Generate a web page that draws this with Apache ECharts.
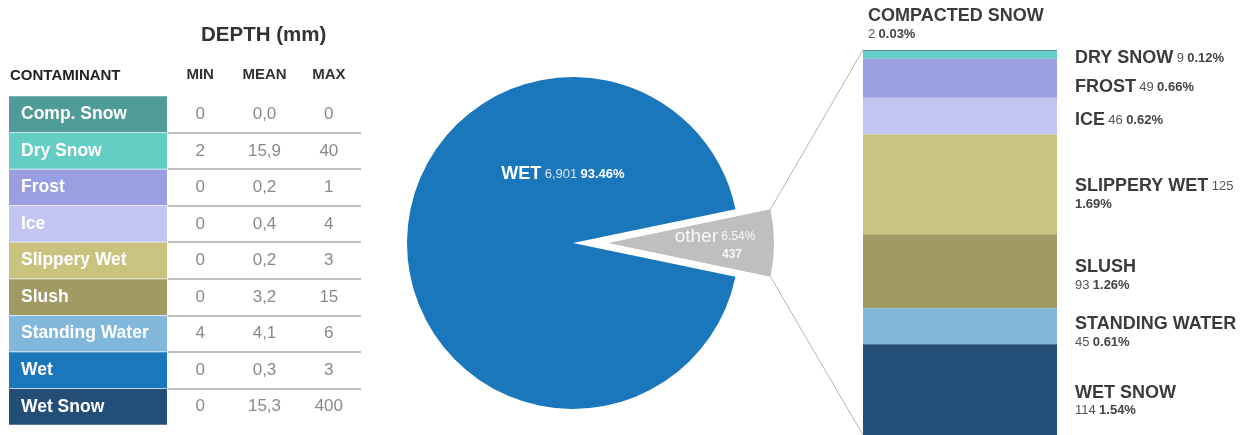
<!DOCTYPE html>
<html lang="en">
  <head>
    <meta charset="utf-8" />
    <title>Runway contaminants</title>
    <script src="https://cdn.jsdelivr.net/npm/echarts@6/dist/echarts.min.js"></script>
    <style>
      html, body { margin: 0; padding: 0; background: #fff; }
      #main { width: 1250px; height: 435px; }
    </style>
  </head>
  <body>
    <div id="main"></div>
  <script>
    // depth table
    let contaminants = ['Comp. Snow', 'Dry Snow', 'Frost', 'Ice', 'Slippery Wet', 'Slush', 'Standing Water', 'Wet', 'Wet Snow'];
    let depthCols = ['MIN', 'MEAN', 'MAX'];
    let depthMin = [0, 2, 0, 0, 0, 0, 4, 0, 0];
    let depthMean = [0.0, 15.9, 0.2, 0.4, 0.2, 3.2, 4.1, 0.3, 15.3];
    let depthMax = [0, 40, 1, 4, 3, 15, 6, 3, 400];

    // pie + breakdown of "other"
    let wetCount = 6901;
    let otherShown = 437; // count as printed on the chart
    let otherNames = ['COMPACTED SNOW', 'DRY SNOW', 'FROST', 'ICE', 'SLIPPERY WET', 'SLUSH', 'STANDING WATER', 'WET SNOW'];
    let otherCounts = [2, 9, 49, 46, 125, 93, 45, 114];

    let tableColors = ['#4f9b98', '#64cdc4', '#9a9fe2', '#c3c4f2', '#c9c37f', '#a19b63', '#82b7dc', '#1a77bc', '#224e78'];
    let stackColors = ['#3f948f', '#64cdc4', '#9a9fe2', '#c3c4f2', '#c9c37f', '#a19b63', '#82b7dc', '#224e78'];

    // layout
    let pieCenter = [573, 243], pieRadius = 166, pieOffset = 35;
    let barLeft = 863, barWidth = 194, barTop = 50, barBottom = 435;
    let labelShift = [0, 3, 9, 4, 10, 4, 6, 11];

    let otherTotal = otherCounts.reduce((a, b) => a + b, 0);
    let grandTotal = wetCount + otherTotal;
    let pct = v => (v / grandTotal * 100).toFixed(2) + '%';
    let fmtMean = v => v.toFixed(1).replace('.', ',');

    let cells = [];
    contaminants.forEach((c, i) => {
        cells.push([0, i, String(depthMin[i])]);
        cells.push([1, i, fmtMean(depthMean[i])]);
        cells.push([2, i, String(depthMax[i])]);
    });

    let barRich = {
        n: { fontSize: 18, fontWeight: 'bold', color: '#3b3b3b', lineHeight: 20, fontFamily: 'Liberation Sans' },
        c: { fontSize: 13, color: '#555', lineHeight: 16, fontFamily: 'Liberation Sans' },
        p: { fontSize: 13, fontWeight: 'bold', color: '#444', lineHeight: 16, fontFamily: 'Liberation Sans' }
    };

    function barLabel(i) {
        let n = otherNames[i], c = otherCounts[i], p = pct(c);
        if (i === 0) {
            return { show: true, position: [5, -44], formatter: '{n|' + n + '}\n{c|' + c + '} {p|' + p + '}', rich: barRich };
        }
        let text;
        if (i <= 3) text = '{n|' + n + '} {c|' + c + '} {p|' + p + '}';
        else if (i === 4) text = '{n|' + n + '} {c|' + c + '}\n{p|' + p + '}';
        else text = '{n|' + n + '}\n{c|' + c + '} {p|' + p + '}';
        return { show: true, position: 'right', distance: 18, offset: [0, labelShift[i]], formatter: text, rich: barRich };
    }

    let stackSeries = otherNames.map((n, i) => ({
        name: n,
        type: 'bar',
        stack: 'other',
        xAxisIndex: 2,
        yAxisIndex: 2,
        barWidth: '100%',
        data: [otherCounts[i]],
        itemStyle: { color: stackColors[i] },
        label: barLabel(i)
    }));

    // connector lines between the pulled-out slice and the breakdown bar
    let half = Math.PI * otherTotal / grandTotal;
    let sx = pieCenter[0] + pieOffset + pieRadius * Math.cos(half);
    let sy1 = pieCenter[1] - pieRadius * Math.sin(half);
    let sy2 = pieCenter[1] + pieRadius * Math.sin(half);

    let chart = echarts.init(document.getElementById('main'));
    let option = {
        animation: false,
        textStyle: { fontFamily: 'Liberation Sans' },
        title: [
            { text: 'DEPTH (mm)', left: 196, top: 20, textStyle: { fontSize: 20.5, fontWeight: 'bold', color: '#333' } },
            { text: 'CONTAMINANT', left: 5, top: 63, textStyle: { fontSize: 15, fontWeight: 'bold', color: '#222' } }
        ],
        graphic: [
            { type: 'line', shape: { x1: sx, y1: sy1, x2: barLeft, y2: barTop }, style: { stroke: '#b5b5b5', lineWidth: 1 }, z: 1 },
            { type: 'line', shape: { x1: sx, y1: sy2, x2: barLeft, y2: barBottom }, style: { stroke: '#b5b5b5', lineWidth: 1 }, z: 1 }
        ],
        grid: [
            { left: 9, top: 96, width: 158, height: 329 },
            { left: 168, top: 96, width: 193, height: 329 },
            { left: barLeft, top: barTop, width: barWidth, height: barBottom - barTop }
        ],
        xAxis: [
            { gridIndex: 0, type: 'value', min: 0, max: 1, show: false },
            { gridIndex: 1, type: 'category', data: depthCols, position: 'top',
              axisLine: { show: false }, axisTick: { show: false },
              axisLabel: { margin: 14, fontSize: 15, fontWeight: 'bold', color: '#333' } },
            { gridIndex: 2, type: 'category', data: ['other'], show: false }
        ],
        yAxis: [
            { gridIndex: 0, type: 'category', data: contaminants, inverse: true, show: false },
            { gridIndex: 1, type: 'category', data: contaminants, inverse: true,
              axisLine: { show: false }, axisTick: { show: false }, axisLabel: { show: false },
              splitLine: { show: true, showMinLine: false, showMaxLine: false, lineStyle: { color: '#a8a8a8', width: 1.5 } } },
            { gridIndex: 2, type: 'value', inverse: true, min: 0, max: otherTotal, show: false }
        ],
        series: [
            {
                type: 'bar',
                xAxisIndex: 0,
                yAxisIndex: 0,
                barCategoryGap: '2%',
                data: contaminants.map((c, i) => ({ value: 1, itemStyle: { color: tableColors[i] } })),
                label: {
                    show: true, position: 'insideLeft', distance: 12,
                    formatter: p => contaminants[p.dataIndex],
                    color: '#fff', fontSize: 17.5, fontWeight: 'bold'
                },
                silent: true
            },
            {
                type: 'scatter',
                xAxisIndex: 1,
                yAxisIndex: 1,
                symbolSize: 1,
                itemStyle: { color: 'rgba(0,0,0,0)' },
                data: cells,
                label: {
                    show: true, position: 'inside',
                    formatter: p => p.value[2],
                    color: '#6b6b6b', fontSize: 17
                }
            },
            {
                type: 'pie',
                center: pieCenter,
                radius: pieRadius,
                startAngle: 180 * otherTotal / grandTotal,
                clockwise: true,
                selectedMode: 'single',
                selectedOffset: pieOffset,
                labelLine: { show: false },
                select: { itemStyle: { color: '#bfbfbf', borderWidth: 0 } },
                emphasis: { disabled: true },
                data: [
                    {
                        name: 'other', value: otherTotal, selected: true,
                        itemStyle: { color: '#bfbfbf' },
                        label: {
                            position: 'inside', overflow: 'none',
                            formatter: () => '{a|other} {b|' + pct(otherTotal) + '}\n{c|' + otherShown + '}',
                            rich: {
                                a: { fontSize: 19, color: '#f7f7f7', lineHeight: 19 },
                                b: { fontSize: 12, color: '#f7f7f7', lineHeight: 19 },
                                c: { fontSize: 12, fontWeight: 'bold', color: '#f7f7f7', lineHeight: 16, padding: [0, 0, 0, 34] }
                            }
                        }
                    },
                    {
                        name: 'WET', value: wetCount,
                        itemStyle: { color: '#1a77bc' },
                        label: {
                            position: 'inside', overflow: 'none',
                            formatter: () => '{a|WET} {b|' + wetCount.toLocaleString('en-US') + '} {c|' + pct(wetCount) + '}',
                            rich: {
                                a: { fontSize: 18, fontWeight: 'bold', color: '#fff' },
                                b: { fontSize: 13, color: '#dbe6f2' },
                                c: { fontSize: 13, fontWeight: 'bold', color: '#fff' }
                            }
                        }
                    }
                ],
                labelLayout: p => p.dataIndex === 1 ? { dx: 76, dy: -69 } : { dx: 21, dy: 2 }
            }
        ].concat(stackSeries)
    };
    chart.setOption(option);
</script>
  </body>
</html>
